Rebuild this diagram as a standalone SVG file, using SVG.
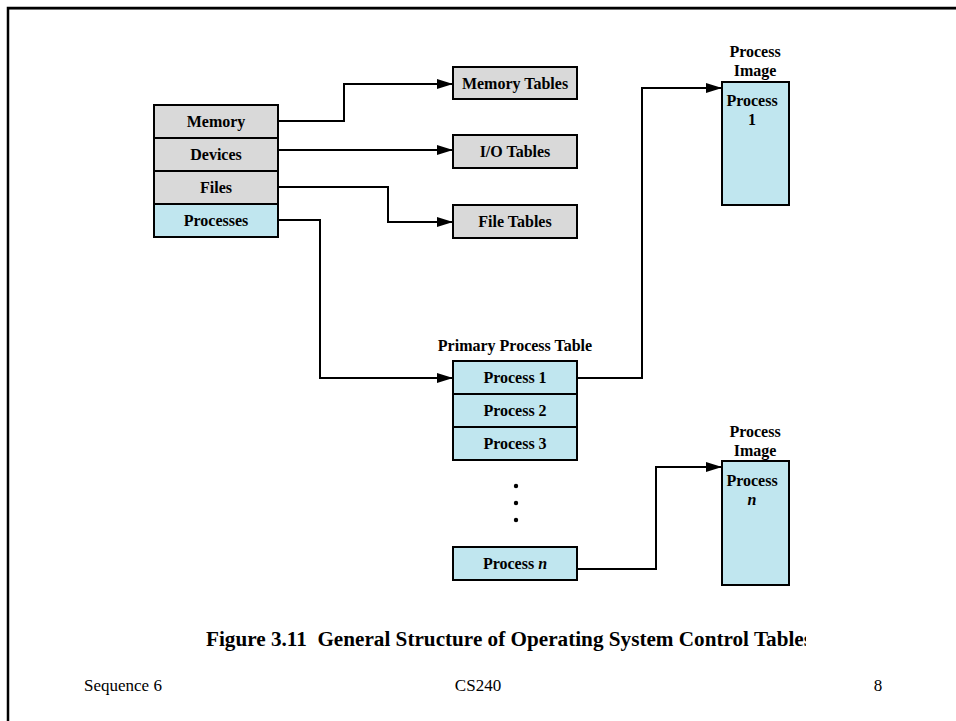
<svg xmlns="http://www.w3.org/2000/svg" width="956" height="721" viewBox="0 0 956 721">
<style>
  .lbl { font-family: "Liberation Serif", "DejaVu Serif", serif; font-weight: bold; font-size: 16px; fill: #000; text-anchor: middle; }
  .gray { fill: #d9d9d9; stroke: #000; stroke-width: 2; }
  .blue { fill: #c0e6ef; stroke: #000; stroke-width: 2; }
  .conn { fill: none; stroke: #000; stroke-width: 2; }
  .foot { font-family: "Liberation Serif", "DejaVu Serif", serif; font-size: 17px; fill: #000; }
  .cap { font-family: "Liberation Serif", "DejaVu Serif", serif; font-weight: bold; font-size: 20px; fill: #000; }
</style>
<defs>
  <marker id="arr" viewBox="0 0 16 10" refX="16" refY="5" markerWidth="16" markerHeight="10" markerUnits="userSpaceOnUse" orient="auto">
    <path d="M0,0 L16,5 L0,10 Z" fill="#000"/>
  </marker>
  <clipPath id="capclip"><rect x="0" y="600" width="806" height="60"/></clipPath>
</defs>
<rect x="0" y="0" width="956" height="721" fill="#fff"/>
<g id="frame">
  <line x1="8" y1="9.5" x2="956" y2="9.5" stroke="#999" stroke-width="1"/>
  <path d="M8,721 L8,8 L956,8" fill="none" stroke="#000" stroke-width="2.5"/>
</g>

<g id="memory"><rect class="gray" x="154" y="105" width="124" height="33"/><text class="lbl" x="216" y="127">Memory</text></g>
<g id="devices"><rect class="gray" x="154" y="138" width="124" height="33"/><text class="lbl" x="216" y="160">Devices</text></g>
<g id="files"><rect class="gray" x="154" y="171" width="124" height="33"/><text class="lbl" x="216" y="193">Files</text></g>
<g id="processes"><rect class="blue" x="154" y="204" width="124" height="33"/><text class="lbl" x="216" y="226">Processes</text></g>

<g id="memory-tables"><rect class="gray" x="453" y="67" width="124" height="32"/><text class="lbl" x="515" y="89">Memory Tables</text></g>
<g id="io-tables"><rect class="gray" x="453" y="135" width="124" height="33"/><text class="lbl" x="515" y="157">I/O Tables</text></g>
<g id="file-tables"><rect class="gray" x="453" y="205" width="124" height="33"/><text class="lbl" x="515" y="227">File Tables</text></g>

<g id="primary-process-table">
  <text class="lbl" x="515" y="351">Primary Process Table</text>
  <rect class="blue" x="453" y="361" width="124" height="33"/><text class="lbl" x="515" y="383">Process 1</text>
  <rect class="blue" x="453" y="394" width="124" height="33"/><text class="lbl" x="515" y="416">Process 2</text>
  <rect class="blue" x="453" y="427" width="124" height="33"/><text class="lbl" x="515" y="449">Process 3</text>
  <circle cx="516" cy="486" r="2.2" fill="#000"/>
  <circle cx="516" cy="503" r="2.2" fill="#000"/>
  <circle cx="516" cy="520" r="2.2" fill="#000"/>
  <rect class="blue" x="453" y="547" width="124" height="33"/><text class="lbl" x="515" y="569">Process <tspan font-style="italic">n</tspan></text>
</g>

<g id="process-image-1">
  <text class="lbl" x="755" y="57">Process</text>
  <text class="lbl" x="755" y="76">Image</text>
  <rect class="blue" x="722" y="82" width="67" height="123"/>
  <text class="lbl" x="752" y="106">Process</text>
  <text class="lbl" x="752" y="125">1</text>
</g>

<g id="process-image-n">
  <text class="lbl" x="755" y="437">Process</text>
  <text class="lbl" x="755" y="456">Image</text>
  <rect class="blue" x="722" y="461" width="67" height="124"/>
  <text class="lbl" x="752" y="486">Process</text>
  <text class="lbl" x="752" y="505" font-style="italic">n</text>
</g>

<g id="connectors">
  <path class="conn" d="M278,121 L344,121 L344,84 L453,84" marker-end="url(#arr)"/>
  <path class="conn" d="M278,150 L453,150" marker-end="url(#arr)"/>
  <path class="conn" d="M278,187 L388,187 L388,222 L453,222" marker-end="url(#arr)"/>
  <path class="conn" d="M278,220 L320,220 L320,378 L453,378" marker-end="url(#arr)"/>
  <path class="conn" d="M577,378 L642,378 L642,88 L722,88" marker-end="url(#arr)"/>
  <path class="conn" d="M577,569 L656,569 L656,467 L722,467" marker-end="url(#arr)"/>
</g>

<g id="caption">
  <text class="cap" x="206" y="646" clip-path="url(#capclip)" textLength="606" lengthAdjust="spacingAndGlyphs" xml:space="preserve">Figure 3.11  General Structure of Operating System Control Tables</text>
</g>
<g id="footer">
  <text class="foot" x="84" y="691">Sequence 6</text>
  <text class="foot" x="478" y="691" text-anchor="middle">CS240</text>
  <text class="foot" x="878" y="691" text-anchor="middle">8</text>
</g>
</svg>
